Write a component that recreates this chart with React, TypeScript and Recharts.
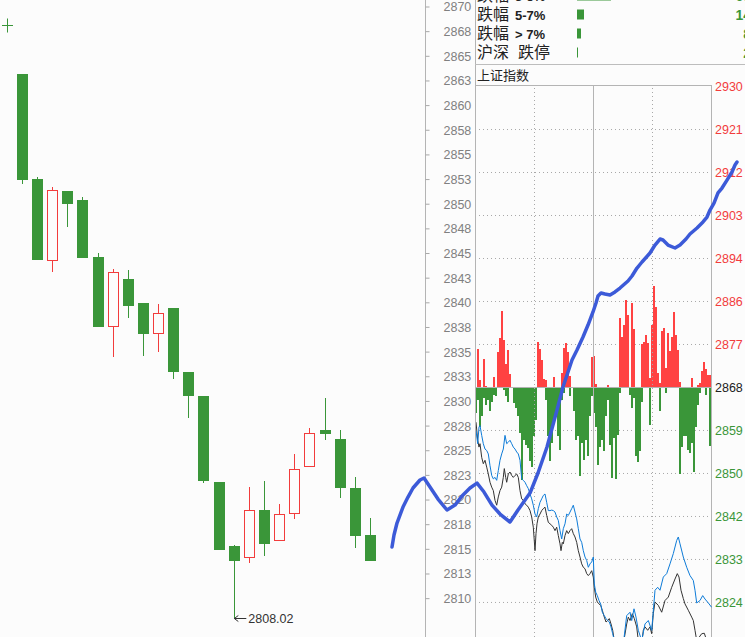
import React from 'react';
import {
  ComposedChart,
  BarChart,
  Bar,
  Line,
  XAxis,
  YAxis,
  ReferenceLine,
  ReferenceDot,
  LabelList,
  CartesianGrid,
} from 'recharts';

const GREEN = '#3a9639';
const RED = '#f23c3c';
const BAR_RED = '#ff4242';
const BG = '#fcfcfc';
const LATIN = '"Liberation Sans", Arial, sans-serif';
const CJK = '"Noto Sans CJK SC", "Noto Sans", sans-serif';

// ---------- daily candles (left) ----------
const candleOpen = [2863.2, 2852.56, 2844.24, 2851.34, 2850.43, 2844.65, 2837.55, 2842.41, 2839.98, 2836.84, 2839.47, 2832.98, 2830.55, 2821.83, 2815.34, 2814.12, 2818.99, 2815.84, 2818.58, 2823.35, 2827.1, 2826.19, 2821.22, 2816.45];
const candleClose = [2852.45, 2844.34, 2851.44, 2850.02, 2844.54, 2837.55, 2843.12, 2839.68, 2836.84, 2838.97, 2832.98, 2830.55, 2821.93, 2814.93, 2813.81, 2818.99, 2815.54, 2818.58, 2823.14, 2826.8, 2826.69, 2821.22, 2816.35, 2813.81];
const candleHigh = [2863.2, 2852.76, 2851.74, 2851.34, 2850.73, 2845.05, 2843.43, 2843.33, 2839.98, 2839.88, 2839.47, 2832.98, 2830.55, 2821.83, 2815.44, 2821.32, 2821.93, 2819.59, 2824.67, 2827.3, 2830.35, 2827.1, 2822.33, 2818.18];
const candleLow = [2852.05, 2844.34, 2843.12, 2847.69, 2844.54, 2837.55, 2834.5, 2838.46, 2834.61, 2835.01, 2832.27, 2828.32, 2821.72, 2814.93, 2808.02, 2813.61, 2814.32, 2815.84, 2818.07, 2823.35, 2826.09, 2820.2, 2815.13, 2813.81];

const midTicks = [2810, 2812.5, 2815, 2817.5, 2820, 2822.5, 2825, 2827.5, 2830, 2832.5, 2835, 2837.5, 2840, 2842.5, 2845, 2847.5, 2850, 2852.5, 2855, 2857.5, 2860, 2862.5, 2865, 2867.5, 2870];
const PRICE_MIN = 2806.11;
const PRICE_MAX = 2870.71;

// ---------- intraday panel (right) ----------
const panelTicks = [2824, 2832.8, 2841.6, 2850.4, 2859.2, 2868, 2876.8, 2885.6, 2894.4, 2903.2, 2912, 2920.8, 2929.6];
const PANEL_BASE = 2868;
const PANEL_MIN = 2816.93;
const PANEL_MAX = 2929.81;

const redBars = [
  null, 2875.9, 2869.6, null, 2873.9, 2868.3, null, null, null, 2870.2,
  null, 2875.2, 2878.1, 2883.7, 2877.8, 2872.8, 2875.7, 2870.7, null, null,
  null, null, null, null, null, null, null, null, null, null,
  null, 2877.4, 2875.8, 2873.7, 2869.7, 2869.6, null, null, null, 2870.1,
  null, null, null, 2870.9, 2876.0, 2877.2, 2875.3, 2870.3, null, null,
  null, null, null, null, null, null, null, null, 2874.3, 2874.5,
  2868.8, null, null, null, null, null, 2868.5, null, null, null,
  null, null, 2882.2, 2878.3, 2880.7, 2885.9, 2882.9, null, 2885.3, 2879.9,
  null, null, null, 2876.9, 2877.4, 2878.8, 2877.1, 2869.9, 2880.8, 2888.8,
  2884.4, 2870.9, 2868.9, 2879.6, 2880.1, 2872.0, 2879.1, 2875.4, 2878.4, 2883.4,
  2878.8, 2875.7, 2869.2, null, null, null, null, null, 2870.0, null,
  null, 2868.5, 2869.0, 2871.3, 2873.3, 2871.8, 2870.6, 2870.6,
];
const greenBars = [
  2862.7, 2865.5, 2860.0, 2862.1, 2865.8, 2864.5, 2865.5, 2863.1, 2865.1, 2866.5,
  2866.2, null, null, null, 2867.5, 2866.2, 2865.1, null, null, 2864.8,
  2863.8, 2862.1, 2858.7, 2849.1, 2857.3, 2856.3, 2855.6, 2852.9, 2851.8, 2858.0,
  2861.4, null, null, null, null, 2865.5, 2858.0, 2852.9, 2856.6, 2861.4,
  2862.7, 2858.0, 2855.2, 2865.5, 2866.8, null, null, 2866.2, null, 2863.1,
  2857.3, 2858.0, 2849.8, 2856.6, 2853.2, 2857.3, 2853.9, 2862.1, 2866.2, 2862.7,
  2860.0, 2852.2, 2855.9, 2857.3, 2854.9, 2862.1, 2865.5, 2856.3, 2849.4, 2857.6,
  2849.2, 2858.3, 2866.8, null, null, null, null, 2866.5, 2863.8, 2865.8,
  2853.9, 2852.7, 2854.9, 2865.1, null, null, null, 2860.4, null, null,
  null, null, 2863.1, null, null, 2866.8, null, null, null, null,
  null, null, 2850.3, 2855.9, 2858.0, 2858.0, 2855.2, 2854.6, 2856.6, 2850.8,
  2860.0, 2864.5, 2866.8, null, null, 2866.5, null, 2856.1,
];

const blackLinePts = [
  [1, 2860.9], [2.7, 2857.2], [4, 2855.8], [5, 2856.5], [6.7, 2853.7], [8.3, 2852.4], [10, 2853.1], [11.7, 2851.7], [13.3, 2850.3], [15, 2848.6],
  [16.7, 2847.6], [18.3, 2846.9], [20, 2844.9], [21.7, 2843.9], [23.3, 2845.6], [25, 2846.9], [26.7, 2847.6], [28.3, 2849.6], [29.3, 2851.4], [30.7, 2849.6],
  [31.7, 2848.6], [33.3, 2850.3], [35, 2850.7], [36.7, 2850.0], [38.3, 2849.6], [40, 2850.0], [41.7, 2850.3], [43.3, 2849.6], [45, 2846.9], [46.7, 2845.2],
  [48.3, 2844.9], [50, 2844.2], [51.7, 2843.9], [53.3, 2843.5], [55, 2842.8], [56.7, 2841.5], [58.3, 2839.4], [60, 2834.6], [61, 2838.1], [62, 2840.1],
  [63.3, 2841.5], [65, 2842.1], [66.7, 2842.8], [68.3, 2843.2], [70, 2843.5], [71.7, 2841.8], [73.3, 2840.4], [75, 2840.1], [76.7, 2839.8], [78.3, 2839.4],
  [80, 2838.7], [81.7, 2839.4], [83.3, 2837.7], [85, 2836.0], [86, 2834.6], [87.3, 2836.3], [88.3, 2836.0], [90, 2837.7], [91.7, 2838.7], [93.3, 2838.1],
  [95, 2838.7], [96.7, 2839.1], [98.3, 2838.1], [100, 2837.4], [101.7, 2836.3], [103.3, 2834.6], [105, 2833.3], [106.7, 2831.9], [108.3, 2831.2], [110, 2830.9],
  [111.7, 2829.9], [113.3, 2829.5], [115, 2829.9], [116.7, 2830.5], [118.3, 2829.2], [119.3, 2827.1], [120.7, 2825.1], [122.3, 2824.1], [124, 2823.7], [125.7, 2823.4],
  [127.3, 2822.4], [129.3, 2821.0], [131, 2820.0], [132.7, 2820.3], [134.3, 2820.7], [136, 2819.6], [137.7, 2818.3], [139.3, 2816.2], [143.3, 2814.2], [148.3, 2815.5],
  [151.7, 2819.6], [153.3, 2821.0], [155, 2820.3], [157.3, 2821.7], [159.3, 2820.7], [161.7, 2819.0], [163.3, 2816.2], [166.7, 2815.5], [168.3, 2818.3], [170, 2819.0],
  [172.7, 2818.3], [175, 2819.0], [176.7, 2817.6], [178.3, 2821.7], [180, 2824.1], [183.3, 2823.4], [186.7, 2822.0], [190, 2824.4], [193.3, 2825.1], [196.7, 2827.1],
  [200, 2828.8], [202.3, 2829.9], [204, 2829.2], [206, 2826.5], [208.3, 2824.8], [210, 2823.7], [213.3, 2822.4], [216.7, 2821.0], [218.3, 2820.3], [220, 2818.3],
  [221.7, 2816.2], [226.7, 2817.6], [229.3, 2817.7], [231.7, 2816.2], [235, 2815.5],
];

const blueLinePts = [
  [1, 2859.2], [2.7, 2856.5], [4, 2859.9], [5, 2860.2], [6.7, 2858.2], [8.3, 2856.5], [10, 2855.4], [11.7, 2855.1], [13.3, 2854.4], [15, 2852.0],
  [16.7, 2850.0], [18.3, 2849.3], [20, 2849.6], [21.7, 2849.0], [23.3, 2851.0], [25, 2853.1], [26.7, 2854.4], [28.3, 2855.4], [30, 2858.2], [31.7, 2856.5],
  [33.3, 2856.8], [35, 2857.2], [36.7, 2856.5], [38.3, 2855.8], [40, 2855.4], [41.7, 2854.8], [43.3, 2854.4], [45, 2853.1], [46.7, 2849.3], [48.3, 2849.0],
  [50, 2848.6], [51.7, 2847.9], [53.3, 2847.3], [55, 2846.2], [56.7, 2845.2], [58.3, 2843.9], [60, 2842.1], [61.7, 2841.5], [63.3, 2843.2], [65, 2844.5],
  [66.7, 2845.2], [68.3, 2845.9], [70, 2846.2], [71.7, 2844.5], [73.3, 2842.8], [75, 2842.8], [76.7, 2842.9], [78.3, 2842.8], [80, 2842.5], [81.7, 2841.5],
  [83.3, 2840.8], [85, 2838.7], [86.7, 2837.0], [88.3, 2839.1], [90, 2840.1], [91.7, 2842.1], [93.3, 2841.8], [95, 2842.5], [96.7, 2843.2], [98.3, 2843.9],
  [100, 2842.5], [101.7, 2841.1], [103.3, 2839.1], [105, 2837.0], [106.7, 2836.3], [108.3, 2834.6], [110, 2833.3], [111.7, 2832.6], [113.3, 2831.2], [115, 2831.9],
  [116.7, 2832.3], [118.3, 2833.3], [119.3, 2827.8], [120.7, 2826.1], [122.3, 2825.4], [124, 2824.4], [125.7, 2823.7], [127.3, 2822.0], [129.3, 2821.3], [131, 2820.7],
  [132.7, 2820.3], [134.3, 2820.0], [136, 2819.0], [137.7, 2817.6], [139.3, 2816.2], [143.3, 2814.2], [148.3, 2815.5], [151.7, 2821.3], [155, 2822.0], [156.7, 2820.3],
  [159, 2822.7], [161, 2821.0], [163.3, 2818.3], [166.7, 2816.2], [170, 2819.6], [173.3, 2820.3], [176.7, 2818.3], [180, 2826.5], [182.7, 2827.1], [185, 2826.5],
  [188.3, 2829.2], [191.7, 2829.9], [195, 2831.9], [198.3, 2834.0], [201.7, 2836.7], [203.3, 2837.4], [205, 2836.0], [208.3, 2833.3], [211.7, 2831.2], [215, 2829.5],
  [218.3, 2828.5], [220, 2826.5], [221.7, 2823.9], [225, 2824.4], [227.7, 2825.4], [230, 2824.7], [233.3, 2823.9], [236.7, 2823.0],
];

// thick index line, minutes relative to panel start, priced on the middle axis
const thickLinePts = [
  [-83, 2815.23], [-81, 2816.45], [-78, 2817.67], [-72, 2819.29], [-67, 2820.3], [-62, 2821.22], [-55, 2822.03], [-51, 2822.23], [-45, 2821.32], [-37, 2820.1],
  [-28, 2818.99], [-20, 2819.49], [-13, 2820.41], [-5, 2821.22], [2, 2821.72], [9, 2820.81], [17, 2819.49], [25, 2818.58], [35, 2817.77], [43, 2818.99],
  [55, 2820.71], [63, 2822.74], [72, 2825.38], [82, 2829.13], [88, 2831.46], [97, 2834.2], [102, 2835.21], [108, 2836.53], [113, 2837.75], [118, 2839.07],
  [121, 2839.98], [123, 2840.69], [126, 2841.0], [130, 2840.89], [135, 2840.79], [140, 2841.1], [145, 2841.5], [153, 2842.21], [157, 2842.72], [162, 2843.53],
  [167, 2844.14], [175, 2845.05], [180, 2845.86], [185, 2846.47], [188, 2846.37], [193, 2845.86], [200, 2845.56], [205, 2845.86], [211, 2846.47], [215, 2846.98],
  [222, 2847.59], [228, 2848.2], [232, 2848.7], [235, 2849.41], [239, 2850.12], [243, 2851.14], [247, 2851.64], [252, 2852.45], [257, 2853.27], [260, 2853.98],
  [262, 2854.28],
];

// ---------- breadth table (top right) ----------
const legendNames = ['跌幅 3-5%', '跌幅 5-7%', '跌幅 > 7%', '沪深 跌停'];
const legendCounts = [68, 14, 8, 2];

// ---------- built rows ----------
const candleRows = candleOpen.map((o, i) => ({
  i,
  open: o,
  close: candleClose[i],
  high: candleHigh[i],
  low: candleLow[i],
  range: [candleLow[i], candleHigh[i]],
}));
const panelRows = redBars.map((r, k) => ({ t: 2 * k + 1, red: r, green: greenBars[k] }));
const blackData = blackLinePts.map(([t, v]) => ({ t, v }));
const blueData = blueLinePts.map(([t, v]) => ({ t, v }));
const thickData = thickLinePts.map(([t, v]) => ({ t, v }));
const legendRows = legendNames.map((name, i) => ({ name, count: legendCounts[i] }));

const CandleShape = (props: any) => {
  const { x, y, width, height, payload } = props;
  if (!payload || !isFinite(y) || !isFinite(height)) return null;
  const top = Math.min(y, y + height);
  const h = Math.abs(height);
  const span = payload.high - payload.low || 1;
  const pix = (v: number) => top + ((payload.high - v) / span) * h;
  const bx = Math.round(x);
  const bw = Math.round(width);
  const cx = bx + Math.floor(bw / 2) + 0.5;
  const up = payload.close > payload.open;
  const color = up ? RED : GREEN;
  const bTop = Math.round(pix(Math.max(payload.open, payload.close)));
  const bBot = Math.round(pix(Math.min(payload.open, payload.close)));
  const wTop = Math.round(pix(payload.high));
  const wBot = Math.round(pix(payload.low));
  if (up) {
    return (
      <g>
        {bTop > wTop && <line x1={cx} x2={cx} y1={wTop} y2={bTop} stroke={color} />}
        {wBot > bBot && <line x1={cx} x2={cx} y1={bBot} y2={wBot} stroke={color} />}
        <rect x={bx + 0.5} y={bTop + 0.5} width={bw - 1} height={Math.max(bBot - bTop - 1, 0)} fill={BG} stroke={color} />
      </g>
    );
  }
  return (
    <g>
      <line x1={cx} x2={cx} y1={wTop} y2={wBot} stroke={color} />
      <rect x={bx} y={bTop} width={bw} height={Math.max(bBot - bTop, 1)} fill={color} />
    </g>
  );
};

const PANEL_BAR_W = 2;
const PanelBarShape = (props: any) => {
  const { x, y, width, height, payload } = props;
  if (!payload || !isFinite(y) || !isFinite(height)) return null;
  const hi = payload.red ?? PANEL_BASE;
  const lo = payload.green ?? PANEL_BASE;
  if (hi === lo) return null;
  const top = Math.min(y, y + height);
  const h = Math.abs(height);
  const base = top + ((hi - PANEL_BASE) / (hi - lo)) * h;
  const center = x + (width || 0) / 2;
  const bx = Math.round(center - PANEL_BAR_W / 2);
  const yTop = Math.round(top);
  const yBase = Math.round(base);
  const yBot = Math.round(top + h);
  return (
    <g>
      {payload.red != null && yBase > yTop && <rect x={bx} y={yTop} width={PANEL_BAR_W} height={yBase - yTop} fill={BAR_RED} />}
      {payload.green != null && yBot > yBase && <rect x={bx} y={yBase} width={PANEL_BAR_W} height={yBot - yBase} fill={GREEN} />}
    </g>
  );
};

const renderPanelTick = (props: any) => {
  const { x, y, payload } = props;
  const v = payload.value as number;
  const fill = Math.abs(v - PANEL_BASE) < 0.01 ? '#222' : v > PANEL_BASE ? RED : GREEN;
  return (
    <text x={x} y={y} dy="0.36em" fill={fill} fontSize={12.5} fontFamily={LATIN} textAnchor="start">
      {Math.round(v)}
    </text>
  );
};

const renderLegendTick = (props: any) => {
  const { y, payload } = props;
  const s: string = payload.value;
  const head = s.slice(0, 2);
  const tail = s.slice(3);
  const bold = /\d/.test(tail);
  return (
    <g>
      <text x={2} y={y + 6} fill="#222" textAnchor="start" fontSize={16} fontFamily={CJK}>
        {head}
      </text>
      <text
        x={bold ? 40 : 43}
        y={y + 6}
        fill="#222"
        textAnchor="start"
        fontSize={bold ? 13 : 16}
        fontWeight={bold ? 'bold' : 'normal'}
        fontFamily={bold ? LATIN : CJK}
      >
        {tail}
      </text>
    </g>
  );
};

const renderCount = (props: any) => {
  const vb = props.viewBox || props;
  const y = (vb.y ?? props.y) as number;
  const h = (vb.height ?? props.height) as number;
  return (
    <text x={276} y={y + h / 2 + 5} textAnchor="end" fill={GREEN} fontSize={14} fontWeight="bold" fontFamily={LATIN}>
      {props.value}
    </text>
  );
};

const gridValues = panelTicks.filter((v) => Math.abs(v - PANEL_BASE) > 0.01 && v < 2925);

export default function App() {
  return (
    <div
      style={{
        position: 'absolute',
        left: 0,
        top: 0,
        width: 745,
        height: 637,
        background: BG,
        overflow: 'hidden',
        fontFamily: LATIN,
      }}
    >
      {/* candles + middle axis */}
      <div style={{ position: 'absolute', left: 0, top: 0 }}>
        <ComposedChart width={475} height={637} data={candleRows} margin={{ top: 0, right: 0, bottom: 0, left: 0.5 }}>
          <XAxis dataKey="i" type="number" domain={[-1.454, 26.636]} allowDataOverflow hide />
          <YAxis
            orientation="right"
            type="number"
            domain={[PRICE_MIN, PRICE_MAX]}
            allowDataOverflow
            ticks={midTicks}
            interval={0}
            width={49.5}
            tickSize={4}
            tickMargin={14}
            tickFormatter={(v: number) => String(Math.round(v))}
            tick={{ fill: '#808080', fontSize: 12.5, fontFamily: LATIN }}
            axisLine={{ stroke: '#b4b4b4' }}
            tickLine={{ stroke: '#a8a8a8' }}
          />
          <Bar dataKey="range" barSize={11} shape={CandleShape} isAnimationActive={false} />
          <ReferenceDot
            x={-1}
            y={2868.2}
            r={0}
            shape={(p: any) => {
              const cx = Math.round(p.cx) + 0.5;
              const cy = Math.round(p.cy) + 0.5;
              return (
                <g stroke={GREEN}>
                  <line x1={cx - 5.5} x2={cx + 5.5} y1={cy} y2={cy} />
                  <line x1={cx} x2={cx} y1={cy - 7} y2={cy + 7} />
                </g>
              );
            }}
          />
          <ReferenceDot
            x={14}
            y={candleLow[14]}
            r={0}
            shape={(p: any) => {
              const cx = p.cx;
              const cy = Math.round(p.cy) + 0.5;
              return (
                <g>
                  <line x1={cx} y1={cy} x2={cx + 12} y2={cy} stroke="#333" />
                  <path d={`M${cx + 4},${cy - 3} L${cx},${cy} L${cx + 4},${cy + 3}`} fill="none" stroke="#333" />
                  <text x={cx + 14} y={cy} dy="0.36em" fontSize={12.5} fill="#333" fontFamily={LATIN}>
                    {candleLow[14].toFixed(2)}
                  </text>
                </g>
              );
            }}
          />
        </ComposedChart>
      </div>

      {/* intraday panel */}
      <div style={{ position: 'absolute', left: 475, top: 80 }}>
        <ComposedChart width={270} height={557} data={panelRows} margin={{ top: 5.5, right: 0, bottom: 0, left: 0 }}>
          <XAxis xAxisId="t" dataKey="t" type="number" domain={[0, 237]} allowDataOverflow hide />
          <YAxis
            yAxisId="p"
            orientation="right"
            type="number"
            domain={[PANEL_MIN, PANEL_MAX]}
            allowDataOverflow
            ticks={panelTicks}
            interval={0}
            width={33}
            tickSize={0}
            tickMargin={3}
            axisLine={false}
            tickLine={false}
            tick={renderPanelTick}
          />
          <CartesianGrid
            xAxisId="t"
            yAxisId="p"
            vertical={false}
            horizontalValues={gridValues}
            stroke="#a8a8a8"
            strokeDasharray="1 3"
          />
          <ReferenceLine xAxisId="t" yAxisId="p" x={59.5} stroke="#a8a8a8" strokeDasharray="1 3" />
          <ReferenceLine xAxisId="t" yAxisId="p" x={177.5} stroke="#a8a8a8" strokeDasharray="1 3" />
          <ReferenceLine xAxisId="t" yAxisId="p" x={118.5} stroke="#b4b4b4" />
          <ReferenceLine xAxisId="t" yAxisId="p" x={236.5} stroke="#b4b4b4" />
          <ReferenceLine xAxisId="t" yAxisId="p" y={PANEL_MAX} stroke="#b4b4b4" />
          <Bar
            xAxisId="t"
            yAxisId="p"
            dataKey={(d: any) => [d.green ?? PANEL_BASE, d.red ?? PANEL_BASE]}
            barSize={2}
            shape={PanelBarShape}
            isAnimationActive={false}
          />
          <ReferenceLine xAxisId="t" yAxisId="p" y={PANEL_BASE} stroke="#b4b4b4" />
          <Line
            xAxisId="t"
            yAxisId="p"
            data={blackData}
            dataKey="v"
            type="linear"
            stroke="#333333"
            strokeWidth={1}
            dot={false}
            activeDot={false}
            isAnimationActive={false}
          />
          <Line
            xAxisId="t"
            yAxisId="p"
            data={blueData}
            dataKey="v"
            type="linear"
            stroke="#0d7bd8"
            strokeWidth={1}
            dot={false}
            activeDot={false}
            isAnimationActive={false}
          />
        </ComposedChart>
      </div>

      {/* breadth table */}
      <div style={{ position: 'absolute', left: 475, top: -15 }}>
        <BarChart
          layout="vertical"
          width={270}
          height={77}
          data={legendRows}
          margin={{ top: 0.5, right: 0, bottom: 0.5, left: 0 }}
          barCategoryGap={0}
        >
          <XAxis type="number" domain={[0, 336]} allowDataOverflow hide />
          <YAxis
            type="category"
            dataKey="name"
            width={102}
            axisLine={false}
            tickLine={false}
            interval={0}
            tick={renderLegendTick}
          />
          <Bar dataKey="count" fill={GREEN} barSize={10} isAnimationActive={false}>
            <LabelList dataKey="count" content={renderCount} />
          </Bar>
        </BarChart>
      </div>

      {/* frame lines */}
      <div style={{ position: 'absolute', left: 475, top: 0, width: 1, height: 637, background: '#b4b4b4' }} />
      <div style={{ position: 'absolute', left: 475, top: 64, width: 270, height: 1, background: '#bdbdbd' }} />

      {/* panel title */}
      <div
        style={{
          position: 'absolute',
          left: 477,
          top: 67,
          fontSize: 13,
          lineHeight: '16px',
          color: '#222',
          fontFamily: CJK,
          whiteSpace: 'nowrap',
        }}
      >
        上证指数
      </div>

      {/* thick index line overlay */}
      <div style={{ position: 'absolute', left: 0, top: 0, pointerEvents: 'none' }}>
        <ComposedChart width={745} height={637} data={thickData} margin={{ top: 0, right: 0, bottom: 0, left: 0 }}>
          <XAxis dataKey="t" type="number" domain={[-475, 270]} allowDataOverflow hide />
          <YAxis type="number" domain={[PRICE_MIN, PRICE_MAX]} allowDataOverflow hide />
          <Line
            dataKey="v"
            type="linear"
            stroke="#3c5ad8"
            strokeWidth={3.5}
            strokeLinejoin="round"
            strokeLinecap="round"
            dot={false}
            activeDot={false}
            isAnimationActive={false}
          />
        </ComposedChart>
      </div>
    </div>
  );
}
